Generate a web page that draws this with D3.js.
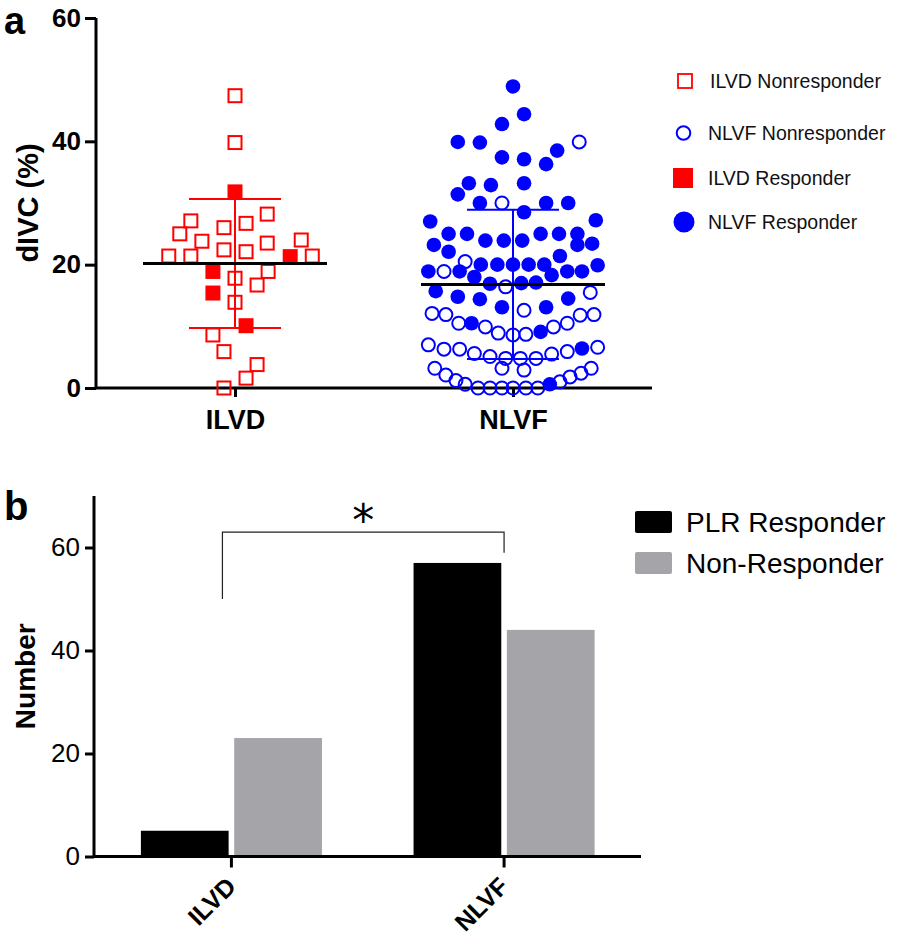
<!DOCTYPE html>
<html><head><meta charset="utf-8">
<script src="https://cdn.jsdelivr.net/npm/d3@7"></script>
<style>html,body{margin:0;padding:0;background:#fff}svg{display:block}</style>
</head><body>
<svg id="chart" width="898" height="942"></svg>
<script>
// ---------- DATA ----------
const groups = ["ILVD", "NLVF"];
const yTicksA = [0, 20, 40, 60];
// ILVD group
const ilvdRespValue = [31.8, 21.3, 18.9, 15.4, 10.1];
const ilvdRespSwarm = [0, 0.60, -0.24, -0.24, 0.12];
const ilvdNonValue = [47.4, 39.8, 27.1, 28.2, 26.0, 26.7, 25.0, 23.8, 23.5, 24.0, 22.4, 22.1, 21.4, 21.4, 21.4, 17.8, 18.9, 16.7, 13.9, 8.6, 5.9, 3.8, 1.6, 0.0];
const ilvdNonSwarm = [0, 0, -0.48, 0.35, -0.12, 0.12, -0.60, -0.36, 0.35, 0.72, -0.12, 0.12, -0.72, -0.48, 0.84, 0, 0.36, 0.24, 0, -0.24, -0.12, 0.24, 0.12, -0.12];
// NLVF group
const nlvfRespValue = [48.9,44.4,42.8,39.9,39.8,38.5,37.4,37.1,36.3,33.2,32.9,33.2,31.4,30.0,30.0,30.0,28.5,27.0,27.2,25.0,25.0,25.0,25.0,25.0,23.9,23.9,23.9,23.2,23.2,23.4,22.1,21.4,20.0,20.0,20.0,20.0,20.0,19.9,18.9,18.9,18.9,18.9,18.0,18.3,16.9,17.0,17.1,15.7,14.8,14.4,14.5,13.1,13.1,10.5,9.1,6.4,0.6];
const nlvfRespSwarm = [0,0.12,-0.12,-0.60,-0.36,0.48,-0.12,0.12,0.36,-0.48,-0.24,0.12,-0.60,-0.36,0.36,0.60,0.12,-0.90,0.90,-0.70,-0.50,0.30,0.50,0.70,-0.30,-0.10,0.10,-0.86,0.70,0.86,-0.70,0.51,-0.35,-0.17,0,0.17,0.34,0.92,-0.92,-0.58,0.59,0.75,-0.42,0.42,-0.25,0.09,0.25,-0.84,-0.60,-0.36,0.60,-0.12,0.36,-0.45,0.30,0.75,0.40];
const nlvfNonValue = [39.9,30.0,20.5,18.9,16.4,15.5,12.6,12.1,11.9,11.9,11.8,10.5,9.9,8.9,8.6,8.7,9.9,10.5,7.0,6.3,6.3,5.6,5.1,4.8,4.8,4.8,5.5,5.9,6.6,3.2,2.9,3.2,2.1,1.2,0.6,3.2,2.4,1.8,1.0,0,0,0,0,0,0];
const nlvfNonSwarm = [0.72,-0.12,-0.52,-0.75,-0.08,0.84,0.12,-0.88,-0.73,0.88,0.73,-0.59,-0.30,-0.16,0,0.14,0.44,0.59,-0.92,-0.75,-0.58,-0.42,-0.25,-0.08,0.08,0.25,0.42,0.59,0.92,-0.12,0.12,-0.85,-0.73,-0.62,-0.52,0.85,0.74,0.62,0.51,-0.38,-0.25,-0.12,0,0.14,0.27];
const groupMean = [20.2, 16.8];
const groupSD = [10.45, 12.1];
const legendA = ["ILVD Nonresponder", "NLVF Nonresponder", "ILVD Responder", "NLVF Responder"];

// Panel b
const barCategories = ["ILVD", "NLVF"];
const barSeries = ["PLR Responder", "Non-Responder"];
const responderCounts = [5, 57];
const nonResponderCounts = [23, 44];
const yTicksB = [0, 20, 40, 60];
const bracketTop = 63, bracketLeftEnd = 50, bracketRightEnd = 59;

// ---------- DRAW ----------
const svg = d3.select("#chart");
const FONT = "'Liberation Sans', Arial, Helvetica, sans-serif";
const RED = "#ff0000", BLUE = "#0000ff";

// ===== Panel a =====
const ya = d3.scaleLinear().domain([0, 60]).range([388, 18]);
const xa = d3.scalePoint().domain(groups).range([96, 652]).padding(0.5);
const swarm = d3.scaleLinear().domain([-1, 1]).range([-92, 92]);

const gA = svg.append("g");
// axes
const yAxisA = d3.axisLeft(ya).tickValues(yTicksA).tickSize(11).tickPadding(4);
const yAg = gA.append("g").attr("transform", "translate(96,0)").call(yAxisA);
yAg.select(".domain").attr("stroke-width", 3).attr("d", `M0,${ya(60)}V${ya(0)}`);
yAg.selectAll(".tick line").attr("stroke-width", 3);
yAg.selectAll(".tick text").attr("font-family", FONT).attr("font-weight", "bold").attr("font-size", 26).attr("fill", "#000");

const xAxisA = d3.axisBottom(xa).tickSize(9).tickPadding(7);
const xAg = gA.append("g").attr("transform", `translate(0,${ya(0)})`).call(xAxisA);
xAg.select(".domain").attr("stroke-width", 3).attr("d", "M96,0H652");
xAg.selectAll(".tick line").attr("stroke-width", 3);
xAg.selectAll(".tick text").attr("font-family", FONT).attr("font-weight", "bold").attr("font-size", 27).attr("fill", "#000").attr("dy", "0.93em");

gA.append("text").attr("transform", `translate(38,${(ya(0)+ya(60))/2}) rotate(-90)`)
  .attr("text-anchor", "middle").attr("font-family", FONT).attr("font-weight", "bold").attr("font-size", 29).text("dIVC (%)");
svg.append("text").attr("x", 4).attr("y", 34).attr("font-family", FONT).attr("font-weight", "bold").attr("font-size", 38).text("a");

// points
const mk = (vals, sw, grp) => vals.map((v, i) => ({v, s: sw[i], g: grp}));
const ilvdNon = mk(ilvdNonValue, ilvdNonSwarm, "ILVD");
const ilvdResp = mk(ilvdRespValue, ilvdRespSwarm, "ILVD");
const nlvfNon = mk(nlvfNonValue, nlvfNonSwarm, "NLVF");
const nlvfResp = mk(nlvfRespValue, nlvfRespSwarm, "NLVF");
const px = d => xa(d.g) + swarm(d.s);

gA.append("g").selectAll("rect").data(ilvdNon).join("rect")
  .attr("x", d => px(d) - 6.5).attr("y", d => ya(d.v) - 6.5).attr("width", 13).attr("height", 13)
  .attr("fill", "none").attr("stroke", RED).attr("stroke-width", 2);
gA.append("g").selectAll("rect").data(ilvdResp).join("rect")
  .attr("x", d => px(d) - 7.5).attr("y", d => ya(d.v) - 7.5).attr("width", 15).attr("height", 15)
  .attr("fill", RED);
gA.append("g").selectAll("circle").data(nlvfNon).join("circle")
  .attr("cx", px).attr("cy", d => ya(d.v)).attr("r", 6.5)
  .attr("fill", "none").attr("stroke", BLUE).attr("stroke-width", 2);
gA.append("g").selectAll("circle").data(nlvfResp).join("circle")
  .attr("cx", px).attr("cy", d => ya(d.v)).attr("r", 7.3).attr("fill", BLUE);

// mean & SD
const colors = [RED, BLUE];
groups.forEach((g, i) => {
  const cx = xa(g);
  const lo = groupMean[i] - groupSD[i], hi = groupMean[i] + groupSD[i];
  gA.append("line").attr("x1", cx).attr("x2", cx).attr("y1", ya(lo)).attr("y2", ya(hi)).attr("stroke", colors[i]).attr("stroke-width", 2);
  [lo, hi].forEach(v => gA.append("line").attr("x1", cx + swarm(-0.5)).attr("x2", cx + swarm(0.5)).attr("y1", ya(v)).attr("y2", ya(v)).attr("stroke", colors[i]).attr("stroke-width", 2));
  gA.append("line").attr("x1", cx + swarm(-1)).attr("x2", cx + swarm(1)).attr("y1", ya(groupMean[i])).attr("y2", ya(groupMean[i])).attr("stroke", "#000").attr("stroke-width", 3);
});

// legend a
const legA = svg.append("g").attr("transform", "translate(685,0)");
const legY = [81, 133, 178, 222];
legA.append("rect").attr("x", -7).attr("y", legY[0] - 7).attr("width", 14).attr("height", 14).attr("fill", "none").attr("stroke", RED).attr("stroke-width", 1.8);
legA.append("circle").attr("cx", -1.5).attr("cy", legY[1]).attr("r", 6.8).attr("fill", "none").attr("stroke", BLUE).attr("stroke-width", 2);
legA.append("rect").attr("x", -12).attr("y", legY[2] - 10).attr("width", 20).attr("height", 20).attr("fill", RED);
legA.append("circle").attr("cx", -1).attr("cy", legY[3]).attr("r", 10.5).attr("fill", BLUE);
legendA.forEach((t, i) => {
  legA.append("text").attr("x", i === 0 ? 25 : 23).attr("y", legY[i]).attr("dy", "0.36em")
    .attr("font-family", FONT).attr("font-size", 19.5).attr("fill", "#111").text(t);
});

// ===== Panel b =====
const yb = d3.scaleLinear().domain([0, 70]).range([856.5, 496]);
const xb = d3.scaleBand().domain(barCategories).range([94, 641.5]).paddingInner(0.336).paddingOuter(0.172);
const xs = d3.scaleBand().domain(barSeries).range([0, xb.bandwidth()]).paddingInner(0.06);
const barColor = d3.scaleOrdinal().domain(barSeries).range(["#000000", "#a4a4a9"]);
const gB = svg.append("g");

const barData = [];
barCategories.forEach((c, i) => {
  barData.push({c, s: barSeries[0], v: responderCounts[i]});
  barData.push({c, s: barSeries[1], v: nonResponderCounts[i]});
});
gB.append("g").selectAll("rect").data(barData).join("rect")
  .attr("x", d => xb(d.c) + xs(d.s)).attr("width", xs.bandwidth())
  .attr("y", d => yb(d.v)).attr("height", d => yb(0) - yb(d.v))
  .attr("fill", d => barColor(d.s));

const yAxisB = d3.axisLeft(yb).tickValues(yTicksB).tickSize(9).tickPadding(5);
const yBg = gB.append("g").attr("transform", "translate(94,0)").call(yAxisB);
yBg.select(".domain").attr("stroke-width", 3).attr("d", `M0,${yb(70)}V${yb(0)}`);
yBg.selectAll(".tick line").attr("stroke-width", 3);
yBg.selectAll(".tick text").attr("font-family", FONT).attr("font-size", 26).attr("fill", "#000");

const xAxisB = d3.axisBottom(xb).tickSize(11).tickFormat("");
const xBg = gB.append("g").attr("transform", `translate(0,${yb(0)})`).call(xAxisB);
xBg.select(".domain").attr("stroke-width", 3).attr("d", "M94,0H641");
xBg.selectAll(".tick line").attr("stroke-width", 3);
barCategories.forEach(c => {
  const cx = xb(c) + xb.bandwidth() / 2;
  gB.append("text").attr("transform", `translate(${cx + 6},888) rotate(-45)`)
    .attr("text-anchor", "end").attr("font-family", FONT).attr("font-weight", "bold").attr("font-size", 25).text(c);
});

gB.append("text").attr("transform", `translate(35,${(yb(0)+yb(70))/2}) rotate(-90)`)
  .attr("text-anchor", "middle").attr("font-family", FONT).attr("font-weight", "bold").attr("font-size", 28).text("Number");
svg.append("text").attr("x", 4).attr("y", 520).attr("font-family", FONT).attr("font-weight", "bold").attr("font-size", 40).text("b");

// significance bracket
const bx1 = xb("ILVD") + xb.bandwidth() / 2 - 9, bx2 = xb("NLVF") + xb.bandwidth() / 2;
gB.append("path").attr("d", `M${bx1},${yb(bracketLeftEnd)}V${yb(bracketTop)}H${bx2}V${yb(bracketRightEnd)}`)
  .attr("fill", "none").attr("stroke", "#222").attr("stroke-width", 1.2);
gB.append("text").attr("x", (bx1 + bx2) / 2).attr("y", yb(bracketTop) + 4).attr("text-anchor", "middle")
  .attr("font-family", "'DejaVu Sans', sans-serif").attr("font-size", 44).text("*");

// legend b
const legB = svg.append("g");
barSeries.forEach((s, i) => {
  const cy = 522 + i * 41;
  legB.append("rect").attr("x", 635).attr("y", cy - 11).attr("width", 37).attr("height", 22).attr("rx", 2).attr("fill", barColor(s));
  legB.append("text").attr("x", 686).attr("y", cy).attr("dy", "0.36em").attr("font-family", FONT).attr("font-size", 28).text(s);
});
</script>
</body></html>
